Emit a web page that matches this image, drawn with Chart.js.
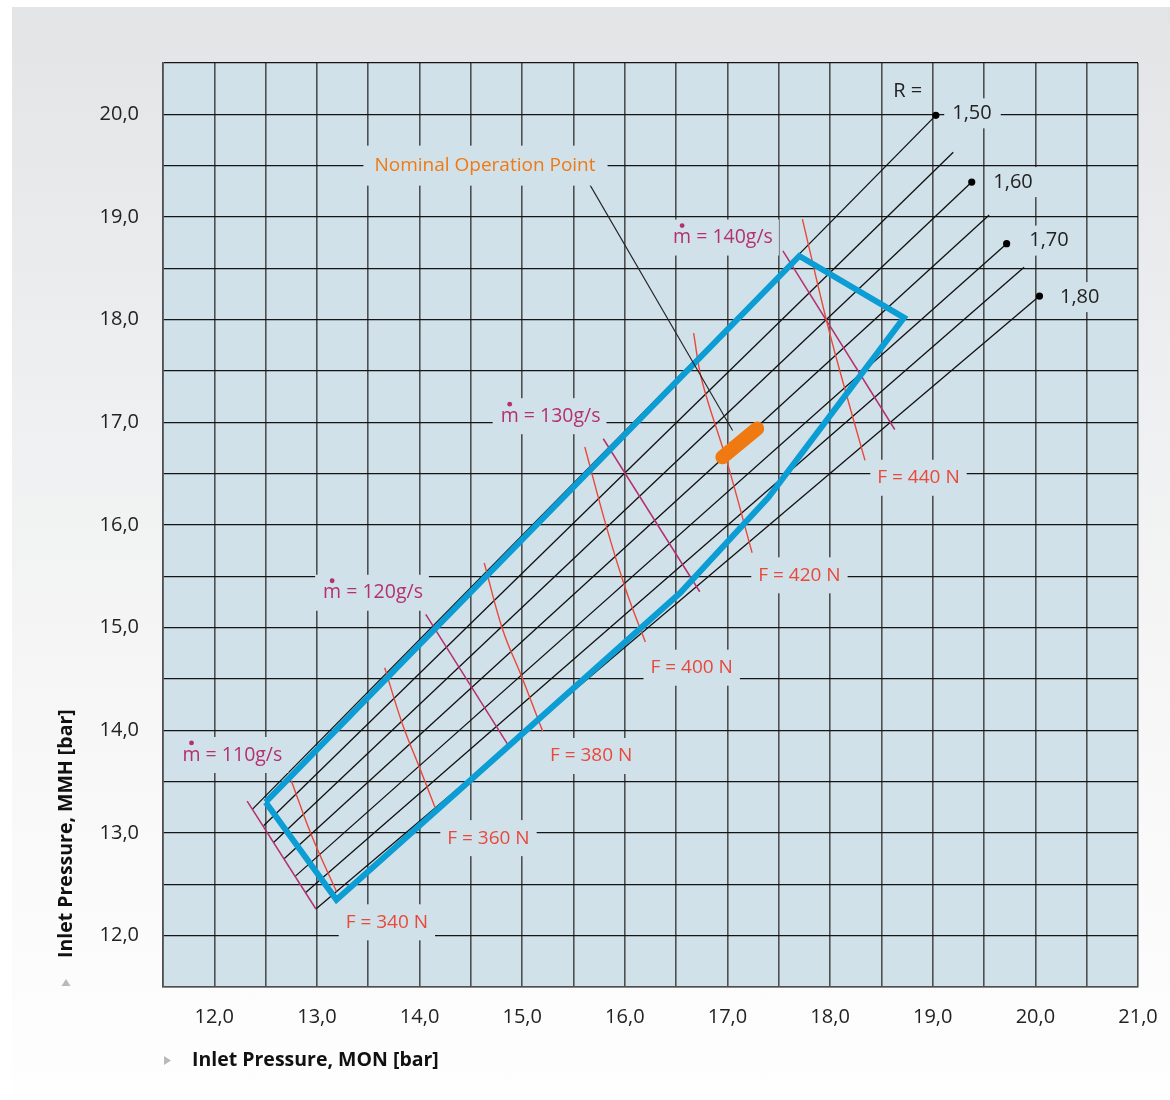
<!DOCTYPE html>
<html>
<head>
<meta charset="utf-8">
<title>Inlet pressure operating envelope</title>
<script src="https://cdn.jsdelivr.net/npm/chart.js@4.4.1/dist/chart.umd.min.js"></script>
<style>
  html, body { margin: 0; padding: 0; background: #ffffff; }
  #wrap { position: relative; width: 1170px; height: 1100px; overflow: hidden; }
  #panel { position: absolute; left: 12px; top: 7px; right: 0; bottom: 0;
           background: linear-gradient(#e3e4e5 0%, #eeeff0 35%, #f8f8f8 70%, #fefefe 100%); }
  canvas { position: absolute; left: 0; top: 0; }
</style>
</head>
<body>
<div id="wrap">
  <div id="panel"></div>
  <canvas id="chart" width="1170" height="1100"></canvas>
</div>
<script>
// ---- Mixture ratio lines R (MON on x, MMH on y, bar) ----
const R_VALUES    = [1.50, 1.55, 1.60, 1.65, 1.70, 1.75, 1.80];
const R_START_MON = [12.37, 12.48, 12.58, 12.68, 12.79, 12.89, 12.99];
const R_START_MMH = [13.23, 13.07, 12.91, 12.75, 12.58, 12.42, 12.26];
const R_END_MON   = [19.03, 19.20, 19.38, 19.55, 19.72, 19.89, 20.04];
const R_END_MMH   = [19.99, 19.63, 19.34, 19.02, 18.74, 18.51, 18.23];

// ---- Qualification envelope ----
const ENVELOPE_MON = [12.50, 17.70, 18.72, 17.40, 16.54, 13.19, 12.50];
const ENVELOPE_MMH = [13.30, 18.62, 18.02, 16.27, 15.34, 12.35, 13.30];

// ---- Mass flow lines (g/s) ----
const MDOT_VALUES    = [110, 120, 130, 140];
const MDOT_START_MON = [12.32, 14.06, 15.79, 17.54];
const MDOT_START_MMH = [13.31, 15.13, 16.84, 18.67];
const MDOT_END_MON   = [12.99, 14.86, 16.73, 18.63];
const MDOT_END_MMH   = [12.26, 13.86, 15.35, 16.93];

// ---- Thrust curves (N) ----
const F_VALUES = [340, 360, 380, 400, 420, 440];
const F_CURVE_MON = [
  [12.75, 12.95, 13.19],
  [13.66, 13.83, 14.01, 14.15],
  [14.63, 14.81, 15.00, 15.20],
  [15.61, 15.83, 16.02, 16.20],
  [16.67, 16.75, 17.00, 17.24],
  [17.73, 17.96, 18.12, 18.34]
];
const F_CURVE_MMH = [
  [13.51, 12.97, 12.43],
  [14.61, 14.07, 13.61, 13.25],
  [15.63, 14.98, 14.51, 13.99],
  [16.76, 15.95, 15.34, 14.86],
  [17.87, 17.41, 16.60, 15.73],
  [18.98, 18.01, 17.41, 16.63]
];

// ---- Nominal operation point and its leader ----
const NOMINAL_MON = [16.95, 17.29];
const NOMINAL_MMH = [16.66, 16.94];
const LEADER_MON  = [15.65, 17.05];
const LEADER_MMH  = [19.33, 16.92];

// ---- Axis ranges ----
const MON_MIN = 11.5, MON_MAX = 21.0;
const MMH_MIN = 11.5, MMH_MAX = 20.5;
const GRID_STEP = 0.5;

const X_TITLE = 'Inlet Pressure, MON [bar]';
const Y_TITLE = 'Inlet Pressure, MMH [bar]';
const NOMINAL_TEXT = 'Nominal Operation Point';

// Label anchors (left edge, vertical centre) in axis units
const LABEL_POS = {
  rHead: [18.615, 20.227],
  r: [[19.19, 20.01], null, [19.59, 19.34], null, [19.94, 18.77], null, [20.24, 18.22]],
  mdot: [[11.69, 13.76], [13.06, 15.34], [14.79, 17.06], [16.47, 18.80]],
  force: [[13.28, 12.13], [14.27, 12.95], [15.27, 13.75], [16.25, 14.61], [17.30, 15.51], [18.46, 16.46]],
  nominal: [13.56, 19.50]
};

const PLOT_BG = '#d1e1e9';
const BLUE = '#0b9dd4';
const ORANGE = '#ef7a12';
const RED = '#e9483b';
const MAGENTA = '#b4306f';
const FONT = '"Open Sans", "Noto Sans", sans-serif';

const fmt = (v, d) => v.toFixed(d).replace('.', ',');
const pts = (xs, ys) => xs.map((x, i) => ({ x: x, y: ys[i] }));

const datasets = [];

// ratio lines
R_VALUES.forEach((r, i) => {
  const labelled = Math.abs(r * 10 - Math.round(r * 10)) < 1e-6;
  datasets.push({
    data: [{ x: R_START_MON[i], y: R_START_MMH[i] }, { x: R_END_MON[i], y: R_END_MMH[i] }],
    borderColor: '#111', borderWidth: 1.3, showLine: true,
    pointRadius: [0, labelled ? 3.6 : 0], pointBackgroundColor: '#000', pointBorderWidth: 0,
    order: 5
  });
});

// mass flow lines
MDOT_VALUES.forEach((m, i) => {
  datasets.push({
    data: [{ x: MDOT_START_MON[i], y: MDOT_START_MMH[i] }, { x: MDOT_END_MON[i], y: MDOT_END_MMH[i] }],
    borderColor: MAGENTA, borderWidth: 1.5, showLine: true, pointRadius: 0, order: 4
  });
});

// thrust curves
F_VALUES.forEach((f, i) => {
  datasets.push({
    data: pts(F_CURVE_MON[i], F_CURVE_MMH[i]),
    borderColor: RED, borderWidth: 1.4, showLine: true, pointRadius: 0, tension: 0.4, order: 3
  });
});

// envelope
datasets.push({
  data: pts(ENVELOPE_MON, ENVELOPE_MMH),
  borderColor: BLUE, borderWidth: 6, showLine: true, pointRadius: 0,
  borderJoinStyle: 'miter', order: 2
});

// leader line
datasets.push({
  data: pts(LEADER_MON, LEADER_MMH),
  borderColor: '#222', borderWidth: 1.1, showLine: true, pointRadius: 0, order: 1
});

// nominal operation point
datasets.push({
  data: pts(NOMINAL_MON, NOMINAL_MMH),
  borderColor: ORANGE, borderWidth: 14, borderCapStyle: 'round', showLine: true, pointRadius: 0, order: 0
});

function boxedText(ctx, text, left, cy, color, opts) {
  const o = Object.assign({ padL: 8, padR: 8, h: 36, box: true }, opts || {});
  const w = ctx.measureText(text).width;
  if (o.box) {
    ctx.fillStyle = PLOT_BG;
    ctx.fillRect(left - o.padL, cy - o.h / 2, w + o.padL + o.padR, o.h);
  }
  ctx.fillStyle = color;
  ctx.fillText(text, left, cy);
  return w;
}

const decor = {
  id: 'decor',
  beforeDraw(chart) {
    const { ctx, chartArea: a } = chart;
    ctx.save();
    ctx.fillStyle = PLOT_BG;
    ctx.fillRect(a.left, a.top, a.right - a.left, a.bottom - a.top);
    ctx.restore();
  },
  afterDatasetsDraw(chart) {
    const { ctx } = chart;
    const xs = chart.scales.x, ys = chart.scales.y;
    const px = v => xs.getPixelForValue(v), py = v => ys.getPixelForValue(v);
    ctx.save();
    ctx.textBaseline = 'middle';
    ctx.textAlign = 'left';

    // R labels
    ctx.font = '20px ' + FONT;
    boxedText(ctx, 'R =', px(LABEL_POS.rHead[0]), py(LABEL_POS.rHead[1]), '#222', { box: false });
    R_VALUES.forEach((r, i) => {
      const p = LABEL_POS.r[i];
      if (!p) return;
      boxedText(ctx, fmt(r, 2), px(p[0]), py(p[1]), '#222', { h: 30, padL: 8, padR: 9 });
    });

    // nominal label
    ctx.font = '19px ' + FONT;
    boxedText(ctx, NOMINAL_TEXT, px(LABEL_POS.nominal[0]), py(LABEL_POS.nominal[1]), ORANGE,
      { h: 40, padL: 11, padR: 12 });

    // mass flow labels with a dot over the m
    ctx.font = '19.5px ' + FONT;
    MDOT_VALUES.forEach((m, i) => {
      const p = LABEL_POS.mdot[i];
      const left = px(p[0]), cy = py(p[1]);
      boxedText(ctx, 'm = ' + m + 'g/s', left, cy, MAGENTA, { h: 36, padL: 8, padR: 6 });
      const mw = ctx.measureText('m').width;
      ctx.beginPath();
      ctx.arc(left + mw / 2, cy - 12, 2.4, 0, Math.PI * 2);
      ctx.fillStyle = MAGENTA;
      ctx.fill();
    });

    // thrust labels
    ctx.font = '19px ' + FONT;
    F_VALUES.forEach((f, i) => {
      const p = LABEL_POS.force[i];
      boxedText(ctx, 'F = ' + f + ' N', px(p[0]), py(p[1]), RED, { h: 36, padL: 7, padR: 7 });
    });
    ctx.restore();
  },
  afterDraw(chart) {
    const { ctx } = chart;
    ctx.save();
    ctx.fillStyle = '#111';
    ctx.font = 'bold 19.5px ' + FONT;
    ctx.textBaseline = 'middle';
    ctx.textAlign = 'left';
    // x title
    ctx.fillText(X_TITLE, 192, 1060);
    // y title, reading upwards
    ctx.save();
    ctx.translate(66, 958);
    ctx.rotate(-Math.PI / 2);
    ctx.fillText(Y_TITLE, 0, 0);
    ctx.restore();
    // small grey markers
    ctx.fillStyle = '#b9b9b9';
    ctx.beginPath();
    ctx.moveTo(164, 1056); ctx.lineTo(171, 1060.5); ctx.lineTo(164, 1065); ctx.closePath();
    ctx.fill();
    ctx.beginPath();
    ctx.moveTo(61.5, 986); ctx.lineTo(66, 979); ctx.lineTo(70.5, 986); ctx.closePath();
    ctx.fill();
    ctx.restore();
  }
};

const tickCb = v => (Math.abs(v - Math.round(v)) < 1e-6 ? fmt(v, 1) : '');

new Chart(document.getElementById('chart'), {
  type: 'scatter',
  data: { datasets: datasets },
  plugins: [decor],
  options: {
    responsive: false,
    animation: false,
    devicePixelRatio: 1,
    layout: { padding: { top: 63, right: 32, bottom: 0, left: 0 } },
    plugins: { legend: { display: false }, tooltip: { enabled: false } },
    elements: { line: { fill: false } },
    scales: {
      x: {
        type: 'linear', min: MON_MIN, max: MON_MAX,
        ticks: { stepSize: GRID_STEP, autoSkip: false, maxRotation: 0, padding: 18,
                 color: '#222', font: { family: FONT, size: 20 }, callback: tickCb },
        grid: { color: '#4f4f4f', lineWidth: 1.6, drawTicks: false },
        border: { display: true, color: '#4f4f4f', width: 1.6 },
        afterFit: s => { s.height = 113; s.paddingLeft = 0; s.paddingRight = 0; }
      },
      y: {
        type: 'linear', min: MMH_MIN, max: MMH_MAX,
        ticks: { stepSize: GRID_STEP, autoSkip: false, padding: 24,
                 color: '#222', font: { family: FONT, size: 20 }, callback: tickCb },
        grid: { color: '#151515', lineWidth: 1.2, drawTicks: false },
        border: { display: true, color: '#4f4f4f', width: 1.6 },
        afterFit: s => { s.width = 163; s.paddingTop = 0; s.paddingBottom = 0; }
      }
    }
  }
});
</script>
</body>
</html>
